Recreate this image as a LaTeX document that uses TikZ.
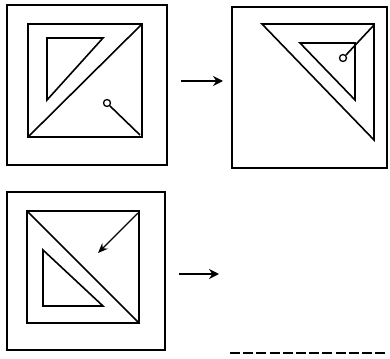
\documentclass[tikz,border=0pt]{standalone}
\usetikzlibrary{arrows.meta}

\begin{document}
\begin{tikzpicture}[
        x=1pt, y=-1pt,
        frame/.style={draw, line width=1.6pt},
        fig/.style={draw, line width=1.6pt, line join=miter},
        ring/.style={draw, circle, line width=1.3pt, inner sep=0pt, minimum size=7pt},
        arr/.style={-{Stealth[length=10pt, width=10pt]}, line width=2.8pt},
        blank/.style={line width=2.4pt, dash pattern=on 10pt off 3.2pt},
    ]
        \useasboundingbox[fill=white] (0,0) rectangle (390,358);

        % Top left: problem figure
        \draw[frame] (7,5) rectangle (167,165);
        \draw[fig] (28,24) rectangle (142,137);
        \draw[fig] (28,137) -- (142,24);
        \draw[fig] (47,38) -- (103,38) -- (47,100) -- cycle;
        \node[ring] (dotA) at (107,103) {};
        \draw[fig] (dotA.south east) -- (140,135);

        % Top right: result figure
        \draw[frame] (232,7) rectangle (387,168);
        \draw[fig] (262,24) -- (374,24) -- (374,140) -- cycle;
        \draw[fig] (300,43) -- (355,43) -- (355,100) -- cycle;
        \node[ring] (dotB) at (343,58) {};
        \draw[fig] (dotB.north east) -- (374,25);

        % Bottom left: question figure
        \draw[frame] (7,192) rectangle (165,350);
        \draw[fig] (27,211) rectangle (139,323);
        \draw[fig] (27,211) -- (139,323);
        \draw[fig] (43,250) -- (43,306) -- (103,306) -- cycle;
        \coordinate (tipC) at (98,253);
        \draw[-{Stealth[length=10pt, width=8pt]}, line width=1.4pt] (138,213) -- (tipC);

        % Arrows and answer blank
        \coordinate (a1) at (181,81);
        \coordinate (b1) at (223,81);
        \coordinate (a2) at (179,274);
        \coordinate (b2) at (219,274);
        \draw[arr] (a1) -- (b1);
        \draw[arr] (a2) -- (b2);
        \coordinate (blankL) at (230,353);
        \coordinate (blankR) at (388,353);
        \draw[blank] (blankL) -- (blankR);
    \end{tikzpicture}
\end{document}
